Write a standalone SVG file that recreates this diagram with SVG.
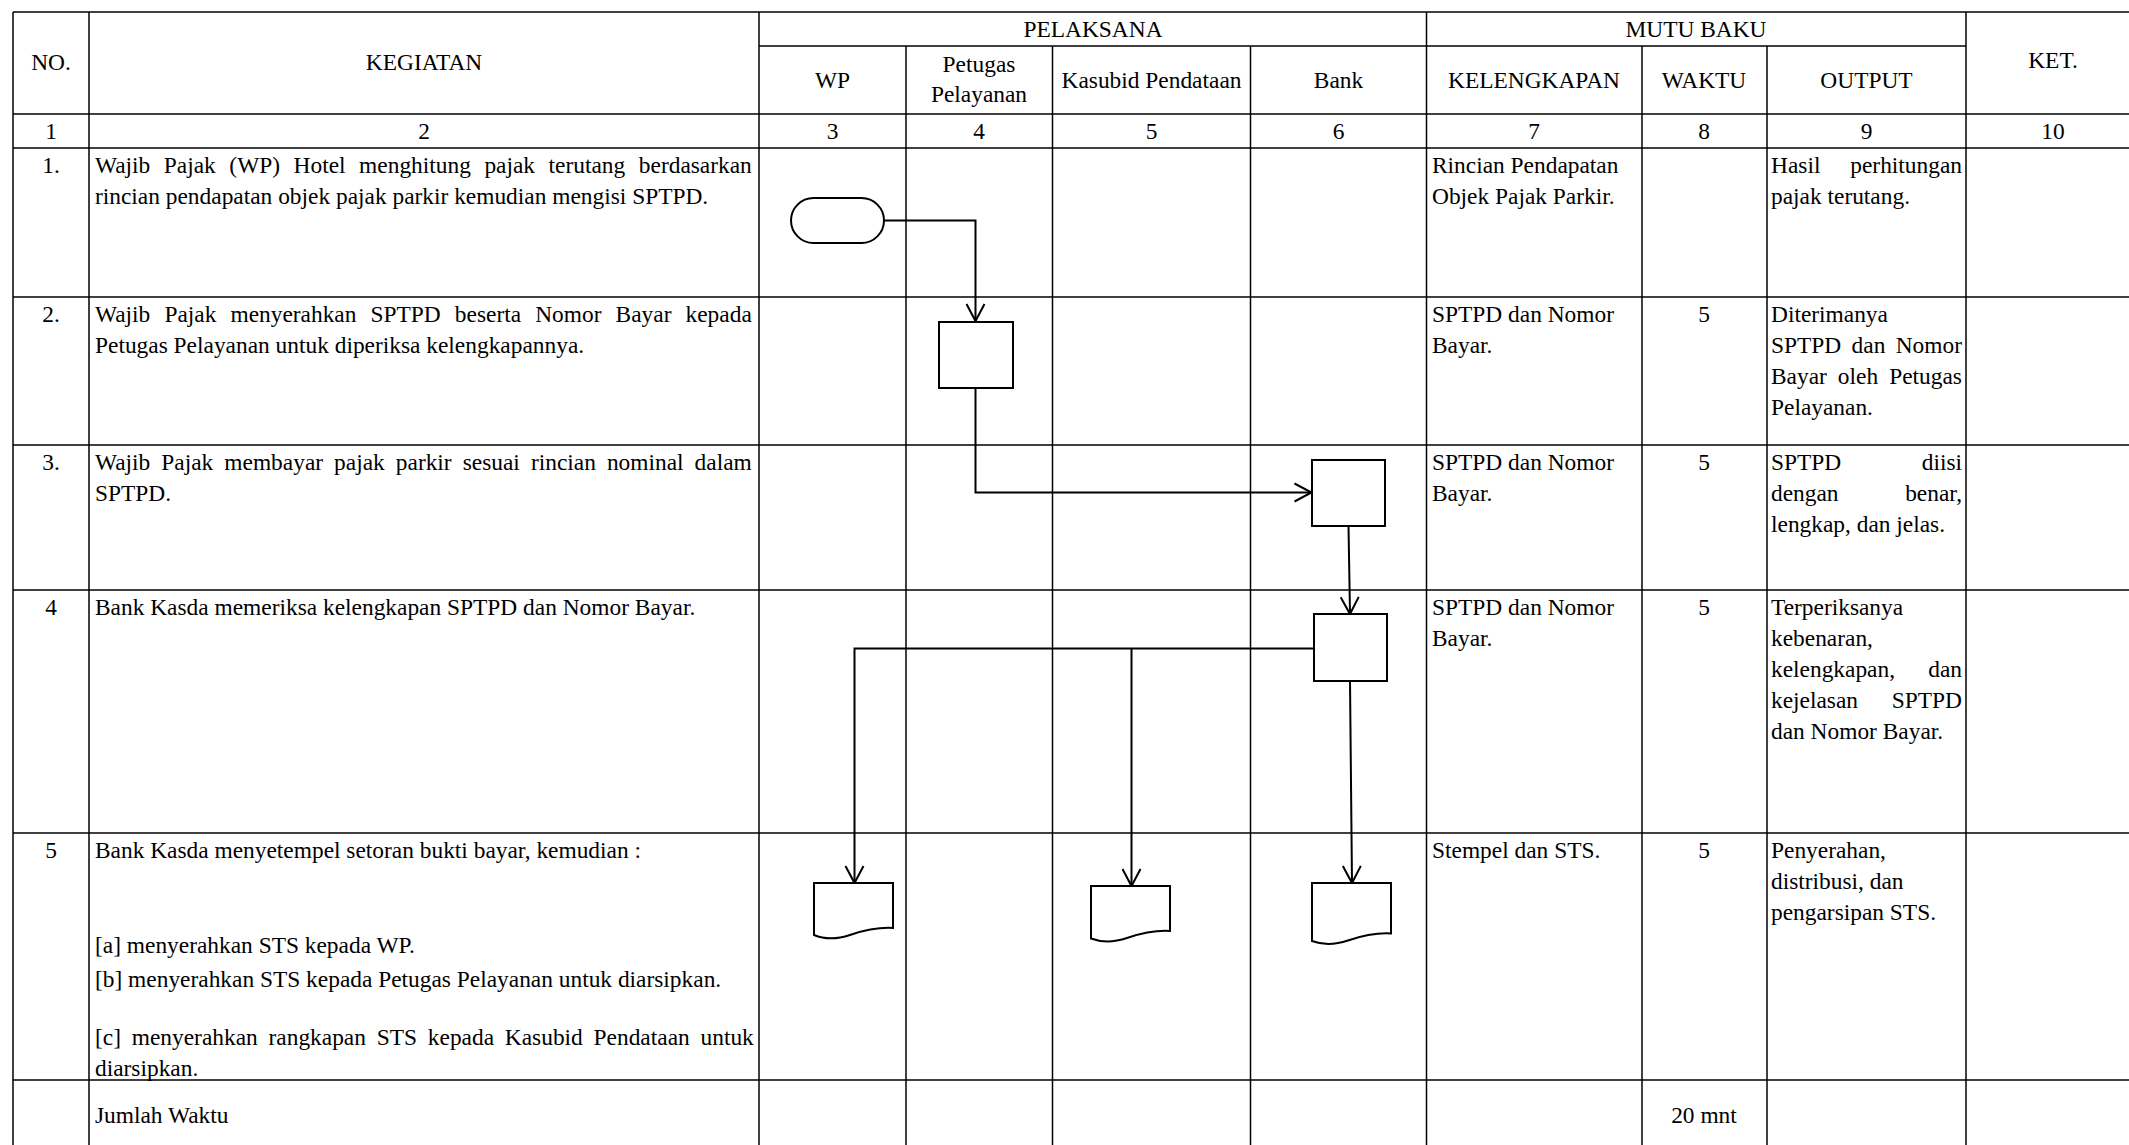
<svg xmlns="http://www.w3.org/2000/svg" width="2129" height="1145" viewBox="0 0 2129 1145">
<style>
text{font-family:"Liberation Serif","Times New Roman",serif;font-size:23.4px;fill:#000}
.c{text-anchor:middle}
.e{text-anchor:end}
.grid line{stroke:#000;stroke-width:1.5}
.shape{fill:#fff;stroke:#000;stroke-width:2}
.conn path{fill:none;stroke:#000;stroke-width:2}
</style>
<defs>
<marker id="arr" markerUnits="userSpaceOnUse" markerWidth="22" markerHeight="22" viewBox="-2 -2 22 22" refX="17" refY="9" orient="auto">
<path d="M0,0 L17,9 L0,18" fill="none" stroke="#000" stroke-width="2"/>
</marker>
</defs>
<rect width="2129" height="1145" fill="#fff"/>
<g class="grid" id="table">
<line x1="13" y1="12" x2="2129" y2="12"/>
<line x1="759" y1="46" x2="1966" y2="46"/>
<line x1="13" y1="114" x2="2129" y2="114"/>
<line x1="13" y1="148" x2="2129" y2="148"/>
<line x1="13" y1="297" x2="2129" y2="297"/>
<line x1="13" y1="445" x2="2129" y2="445"/>
<line x1="13" y1="590" x2="2129" y2="590"/>
<line x1="13" y1="833" x2="2129" y2="833"/>
<line x1="13" y1="1080" x2="2129" y2="1080"/>
<line x1="13" y1="12" x2="13" y2="1145"/>
<line x1="89" y1="12" x2="89" y2="1145"/>
<line x1="759" y1="12" x2="759" y2="1145"/>
<line x1="906" y1="46" x2="906" y2="1145"/>
<line x1="1052.5" y1="46" x2="1052.5" y2="1145"/>
<line x1="1250.5" y1="46" x2="1250.5" y2="1145"/>
<line x1="1426.5" y1="12" x2="1426.5" y2="1145"/>
<line x1="1642" y1="46" x2="1642" y2="1145"/>
<line x1="1767" y1="46" x2="1767" y2="1145"/>
<line x1="1966" y1="12" x2="1966" y2="1145"/>
</g>
<g id="header">
<text class="c" x="51" y="70">NO.</text>
<text class="c" x="424" y="70">KEGIATAN</text>
<text class="c" x="1093" y="37">PELAKSANA</text>
<text class="c" x="1696" y="37">MUTU BAKU</text>
<text class="c" x="2053" y="68">KET.</text>
<text class="c" x="832.5" y="88">WP</text>
<text class="c" x="979" y="72">Petugas</text>
<text class="c" x="979" y="102">Pelayanan</text>
<text class="c" x="1151.5" y="88">Kasubid Pendataan</text>
<text class="c" x="1338.5" y="88">Bank</text>
<text class="c" x="1534" y="88">KELENGKAPAN</text>
<text class="c" x="1704" y="88">WAKTU</text>
<text class="c" x="1866.5" y="88">OUTPUT</text>
<text class="c" x="51" y="139">1</text>
<text class="c" x="424" y="139">2</text>
<text class="c" x="832.5" y="139">3</text>
<text class="c" x="979" y="139">4</text>
<text class="c" x="1151.5" y="139">5</text>
<text class="c" x="1338.5" y="139">6</text>
<text class="c" x="1534" y="139">7</text>
<text class="c" x="1704" y="139">8</text>
<text class="c" x="1866.5" y="139">9</text>
<text class="c" x="2053" y="139">10</text>
</g>
<g id="row1">
<text class="c" x="51" y="173">1.</text>
<text x="95" y="173" word-spacing="7.71">Wajib Pajak (WP) Hotel menghitung pajak terutang berdasarkan</text>
<text x="95" y="204">rincian pendapatan objek pajak parkir kemudian mengisi SPTPD.</text>
<text x="1432" y="173">Rincian Pendapatan</text>
<text x="1432" y="204">Objek Pajak Parkir.</text>
<text x="1771" y="173">Hasil</text>
<text class="e" x="1962" y="173">perhitungan</text>
<text x="1771" y="204">pajak terutang.</text>
</g>
<g id="row2">
<text class="c" x="51" y="322">2.</text>
<text x="95" y="322" word-spacing="8.26">Wajib Pajak menyerahkan SPTPD beserta Nomor Bayar kepada</text>
<text x="95" y="353">Petugas Pelayanan untuk diperiksa kelengkapannya.</text>
<text x="1432" y="322">SPTPD dan Nomor</text>
<text x="1432" y="353">Bayar.</text>
<text class="c" x="1704" y="322">5</text>
<text x="1771" y="322">Diterimanya</text>
<text x="1771" y="353" word-spacing="4.5">SPTPD dan Nomor</text>
<text x="1771" y="384" word-spacing="5.17">Bayar oleh Petugas</text>
<text x="1771" y="415">Pelayanan.</text>
</g>
<g id="row3">
<text class="c" x="51" y="470">3.</text>
<text x="95" y="470" word-spacing="5.2">Wajib Pajak membayar pajak parkir sesuai rincian nominal dalam</text>
<text x="95" y="501">SPTPD.</text>
<text x="1432" y="470">SPTPD dan Nomor</text>
<text x="1432" y="501">Bayar.</text>
<text class="c" x="1704" y="470">5</text>
<text x="1771" y="470">SPTPD</text>
<text class="e" x="1962" y="470">diisi</text>
<text x="1771" y="501">dengan</text>
<text class="e" x="1962" y="501">benar,</text>
<text x="1771" y="532">lengkap, dan jelas.</text>
</g>
<g id="row4">
<text class="c" x="51" y="615">4</text>
<text x="95" y="615">Bank Kasda memeriksa kelengkapan SPTPD dan Nomor Bayar.</text>
<text x="1432" y="615">SPTPD dan Nomor</text>
<text x="1432" y="646">Bayar.</text>
<text class="c" x="1704" y="615">5</text>
<text x="1771" y="615">Terperiksanya</text>
<text x="1771" y="646">kebenaran,</text>
<text x="1771" y="677">kelengkapan,</text>
<text class="e" x="1962" y="677">dan</text>
<text x="1771" y="708">kejelasan</text>
<text class="e" x="1962" y="708">SPTPD</text>
<text x="1771" y="739">dan Nomor Bayar.</text>
</g>
<g id="row5">
<text class="c" x="51" y="858">5</text>
<text x="95" y="858">Bank Kasda menyetempel setoran bukti bayar, kemudian :</text>
<text x="95" y="953">[a] menyerahkan STS kepada WP.</text>
<text x="95" y="987">[b] menyerahkan STS kepada Petugas Pelayanan untuk diarsipkan.</text>
<text x="95" y="1045" word-spacing="4.94">[c] menyerahkan rangkapan STS kepada Kasubid Pendataan untuk</text>
<text x="95" y="1076">diarsipkan.</text>
<text x="1432" y="858">Stempel dan STS.</text>
<text class="c" x="1704" y="858">5</text>
<text x="1771" y="858">Penyerahan,</text>
<text x="1771" y="889">distribusi, dan</text>
<text x="1771" y="920">pengarsipan STS.</text>
</g>
<g id="total">
<text x="95" y="1123">Jumlah Waktu</text>
<text class="c" x="1704" y="1123">20 mnt</text>
</g>
<g class="conn" id="connectors">
<path d="M884,220.5 H975.5 V321" marker-end="url(#arr)"/>
<path d="M975.5,388 V492.5 H1311.5" marker-end="url(#arr)"/>
<path d="M1348.5,526 L1350,614" marker-end="url(#arr)"/>
<path d="M1314,648.5 H854.5 V883" marker-end="url(#arr)"/>
<path d="M1131.5,648.5 V886" marker-end="url(#arr)"/>
<path d="M1350,681 L1352,883" marker-end="url(#arr)"/>
</g>
<g id="start-wp"><rect class="shape" x="791" y="198" width="93" height="45" rx="22.5" ry="22.5"/></g>
<g id="proc-petugas"><rect class="shape" x="939" y="322" width="74" height="66"/></g>
<g id="proc-bank-bayar"><rect class="shape" x="1312" y="460" width="73" height="66"/></g>
<g id="proc-bank-periksa"><rect class="shape" x="1314" y="614" width="73" height="67"/></g>
<g id="doc-wp"><path class="shape" d="M814,883 H893 V928 C876,927 862,931 850,935 C838,939 826,940 814,935 Z"/></g>
<g id="doc-kasubid"><path class="shape" d="M1091,886 H1170 V931 C1153,930 1139,934 1127,938 C1115,942 1103,943 1091,938.5 Z"/></g>
<g id="doc-bank"><path class="shape" d="M1312,883 H1391 V933.5 C1374,932.5 1360,936.5 1348,940.5 C1336,944.5 1324,945.5 1312,941 Z"/></g>
</svg>
